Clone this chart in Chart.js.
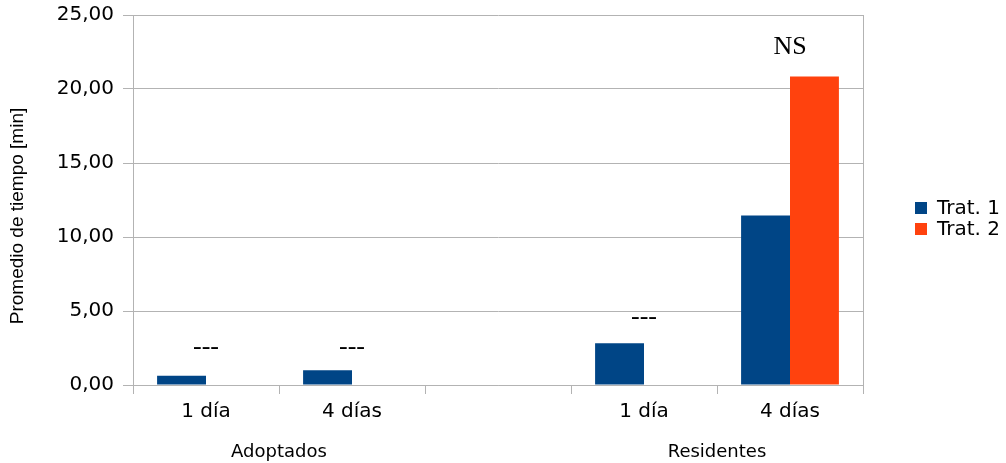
<!DOCTYPE html>
<html>
<head>
<meta charset="utf-8">
<script src="https://cdn.jsdelivr.net/npm/chart.js@4"></script>
<style>
  html, body { margin: 0; padding: 0; background: #fff; }
  #wrap { width: 1006px; height: 463px; position: relative; }
</style>
</head>
<body>
<div id="wrap"><canvas id="chart"></canvas></div>
<script>
// datos
const categories = ['1 día', '4 días', '', '1 día', '4 días'];
const groups = ['Adoptados', 'Residentes'];
const groupSpans = [[0, 1], [3, 4]];
const seriesNames = ['Trat. 1', 'Trat. 2'];
const trat1 = [0.62, 1.0, null, 2.82, 11.45];
const trat2 = [null, null, null, null, 20.85];
const marks = ['---', '---', '', '---', 'NS'];
const markValues = [2.55, 2.55, null, 4.6, 22.8];
const yTitle = 'Promedio de tiempo [min]';

const colors = ['#004586', '#ff420e'];
const gridColor = '#b3b3b3';
const sans = '"DejaVu Sans", sans-serif';

// textos extra: marcas, grupos, título del eje y leyenda
const extras = {
  id: 'extras',
  afterDraw(chart) {
    const { ctx, chartArea: a, scales: { x, y } } = chart;
    ctx.save();

    // borde derecho del área
    ctx.strokeStyle = gridColor;
    ctx.lineWidth = 1;
    ctx.beginPath();
    ctx.moveTo(Math.round(a.right) + 0.5, a.top);
    ctx.lineTo(Math.round(a.right) + 0.5, a.bottom);
    ctx.stroke();

    ctx.fillStyle = '#000';
    ctx.textAlign = 'center';
    ctx.textBaseline = 'middle';

    ctx.font = '26px "Liberation Serif", serif';
    marks.forEach((m, i) => {
      if (!m) return;
      ctx.fillText(m, x.getPixelForValue(i), y.getPixelForValue(markValues[i]));
    });

    ctx.font = '18px ' + sans;
    groups.forEach((g, i) => {
      const [s, e] = groupSpans[i];
      const cx = (x.getPixelForValue(s) + x.getPixelForValue(e)) / 2;
      ctx.fillText(g, cx, 452);
    });

    // leyenda
    ctx.textAlign = 'left';
    ctx.font = '20px ' + sans;
    chart.data.datasets.forEach((ds, i) => {
      const cy = 208 + i * 21;
      ctx.fillStyle = ds.backgroundColor;
      ctx.fillRect(915, cy - 6, 12, 12);
      ctx.fillStyle = '#000';
      ctx.fillText(ds.label, 937, cy + 1);
    });

    // título eje y
    ctx.translate(18, 216);
    ctx.rotate(-Math.PI / 2);
    ctx.textAlign = 'center';
    ctx.font = '19px "Liberation Sans", sans-serif';
    ctx.fillText(yTitle, 0, 0);

    ctx.restore();
  }
};

const ctx = document.getElementById('chart').getContext('2d');
new Chart(ctx, {
  type: 'bar',
  data: {
    labels: categories,
    datasets: [
      { label: seriesNames[0], data: trat1, backgroundColor: colors[0] },
      { label: seriesNames[1], data: trat2, backgroundColor: colors[1] }
    ]
  },
  options: {
    responsive: true,
    maintainAspectRatio: false,
    animation: false,
    categoryPercentage: 0.67,
    barPercentage: 1,
    layout: { padding: { top: 15, right: 143, left: 0, bottom: 0 } },
    scales: {
      x: {
        afterFit: (s) => { s.height = 78; s.paddingLeft = 0; s.paddingRight = 0; },
        grid: {
          offset: true,
          drawOnChartArea: false,
          drawTicks: true,
          tickLength: 9,
          color: gridColor
        },
        border: { display: true, color: gridColor },
        ticks: {
          color: '#000',
          padding: 6,
          maxRotation: 0,
          font: { family: sans, size: 20 }
        }
      },
      y: {
        min: 0,
        max: 25,
        afterFit: (s) => { s.width = 133; s.paddingTop = 0; s.paddingBottom = 0; },
        grid: { color: gridColor, tickLength: 10 },
        border: { display: true, color: gridColor },
        ticks: {
          stepSize: 5,
          color: '#000',
          padding: 9,
          font: { family: sans, size: 20 },
          callback: (v) => v.toFixed(2).replace('.', ',')
        }
      }
    },
    plugins: {
      legend: { display: false },
      tooltip: { enabled: false }
    }
  },
  plugins: [extras]
});
</script>
</body>
</html>
